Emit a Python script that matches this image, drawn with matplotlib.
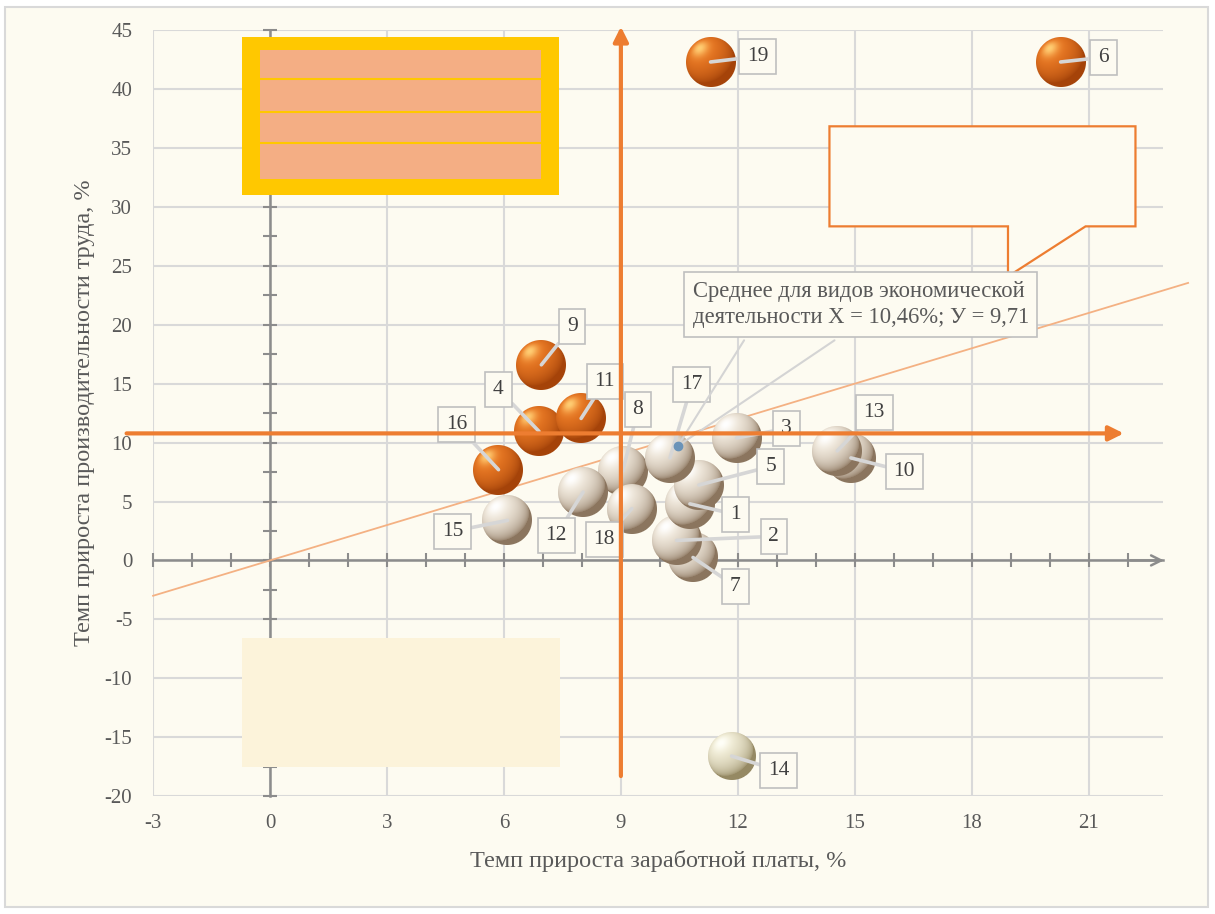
import numpy as np
import matplotlib.pyplot as plt
from matplotlib.offsetbox import OffsetImage, AnnotationBbox
from matplotlib.patches import Rectangle, Polygon

plt.rcParams['font.family'] = ['Liberation Serif', 'DejaVu Serif']
plt.rcParams['axes.unicode_minus'] = False

# --- data ---
ids = list(range(1, 20))
wage = [10.77, 10.43, 11.97, 6.90, 11.00, 20.28, 10.85, 9.05, 6.96, 14.90,
        7.98, 8.03, 14.55, 11.84, 6.09, 5.86, 10.26, 9.28, 11.30]
prod = [4.8, 1.7, 10.4, 10.95, 6.4, 42.3, 0.25, 7.6, 16.6, 8.7,
        12.05, 5.8, 9.3, -16.6, 3.4, 7.7, 8.7, 4.4, 42.3]
orange_ids = [4, 6, 9, 11, 16, 19]
mean_x, mean_y = 10.46, 9.71
mean_text = "Среднее для видов экономической\nдеятельности Х = 10,46%; У = 9,71"

# where the number boxes sit
lab_x = [11.94, 12.92, 13.25, 5.86, 12.84, 21.38, 11.94, 9.44, 7.75, 16.27,
         8.59, 7.34, 15.50, 13.04, 4.68, 4.78, 10.82, 8.57, 12.51]
lab_y = [3.9, 2.04, 11.2, 14.52, 7.98, 42.7, -2.2, 12.82, 19.86, 7.56,
         15.2, 2.12, 12.56, -17.83, 2.46, 11.54, 14.94, 1.78, 42.78]

# drawing order of the bubbles (later = on top)
draw_order = [7, 2, 1, 5, 10, 13, 8, 18, 12, 4, 11, 16, 9, 15, 17, 3, 19, 6, 14]

ORANGE = '#ED7D31'
BG = '#FDFBF1'
TXT = '#595959'


def sphere(d, body, light, dark, gamma=0.7):
    # little shaded ball picture, d pixels wide
    yy, xx = np.mgrid[0:d, 0:d] + 0.5
    R = d / 2.0
    nx = (xx - R) / R
    ny = -(yy - R) / R
    r = np.sqrt(nx ** 2 + ny ** 2)
    nz = np.sqrt(np.clip(1 - r ** 2, 0, 1))
    L = np.array([-0.45, 0.55, 0.70])
    L = L / np.linalg.norm(L)
    diff = np.clip(nx * L[0] + ny * L[1] + nz * L[2], 0, 1)
    spec = diff ** 16
    body = np.array(body) / 255.0
    light = np.array(light) / 255.0
    dark = np.array(dark) / 255.0
    t = diff[..., None] ** gamma
    col = dark + (body - dark) * t
    col = col + (light - col) * spec[..., None]
    alpha = np.clip(R - r * R + 0.5, 0, 1)
    return np.dstack([np.clip(col, 0, 1), alpha])


fig = plt.figure(figsize=(12.15, 9.14), dpi=100, facecolor='white')
fig.patches.append(Rectangle((0.0041, 0.0077), 0.990, 0.9846, transform=fig.transFigure,
                             fc=BG, ec='#D9D9D9', lw=1.5, zorder=-10))
ax = fig.add_axes([0.126, 0.129, 0.831, 0.838])
ax.set_facecolor('none')
ax.set_xlim(-3, 22.9)
ax.set_ylim(-20, 45)
ax.set_xticks(np.arange(-3, 22, 3))
ax.set_yticks(np.arange(-20, 46, 5))
ax.tick_params(length=0, labelsize=15, labelcolor=TXT)
ax.tick_params(axis='x', pad=13)
ax.tick_params(axis='y', pad=15)
ax.grid(True, color='#D9D9D9', lw=1.5)
ax.set_axisbelow(True)
for s in ax.spines.values():
    s.set_visible(False)

ax.set_xlabel('Темп прироста заработной платы, %', fontsize=17.5, color=TXT, labelpad=12)
ax.set_ylabel('Темп прироста производительности труда, %', fontsize=17.5, color=TXT, labelpad=7)

# zero axes with small ticks
ax.plot([-3, 22.9], [0, 0], color='#8C8C8C', lw=1.8, zorder=1.5, clip_on=False)
ax.annotate('', xy=(23.0, 0), xytext=(22.0, 0),
            arrowprops=dict(arrowstyle='->', color='#8C8C8C', lw=1.8, mutation_scale=18),
            zorder=1.5, annotation_clip=False)
ax.plot(np.arange(-3, 23), np.zeros(26), ls='none', marker='|', ms=10, mew=1.5,
        color='#8C8C8C', zorder=1.5, clip_on=False)
ax.plot([0, 0], [-20, 45], color='#8C8C8C', lw=1.8, zorder=1.5, clip_on=False)
ax.plot(np.zeros(27), np.arange(-20, 46, 2.5), ls='none', marker='_', ms=10, mew=1.5,
        color='#8C8C8C', zorder=1.5, clip_on=False)

# trend line
ax.plot([-3, 23.55], [-3, 23.55], color='#F4B183', lw=1.3, zorder=2, clip_on=False)

# decoration boxes
ax.add_patch(Rectangle((-0.72, 31.0), 8.14, 13.4, fc='#FFC800', ec='none', zorder=2.2))
ax.add_patch(Rectangle((-0.26, 32.34), 7.22, 10.96, fc='#F4AE84', ec='none', zorder=2.3))
for yl in [40.83, 38.03, 35.4]:
    ax.plot([-0.26, 6.96], [yl, yl], color='#FFC800', lw=1.5, zorder=2.4)
ax.add_patch(Rectangle((-0.72, -17.57), 8.16, 10.95, fc='#FCF3DA', ec='none', zorder=2.2))
ax.add_patch(Polygon([(14.35, 36.84), (22.2, 36.84), (22.2, 28.35), (20.92, 28.35),
                      (18.93, 24.1), (18.93, 28.35), (14.35, 28.35)],
                     closed=True, fc=BG, ec=ORANGE, lw=1.6, zorder=2.2, clip_on=False))

# bubbles
for k, i in enumerate(draw_order):
    j = i - 1
    if i in orange_ids:
        img = sphere(50, (236, 122, 36), (255, 205, 115), (165, 68, 10), 0.8)
    elif i == 14:
        img = sphere(48, (244, 240, 218), (255, 255, 248), (150, 138, 100), 0.6)
    else:
        img = sphere(50, (245, 238, 226), (255, 255, 255), (140, 118, 95), 0.6)
    ab = AnnotationBbox(OffsetImage(img, zoom=1, dpi_cor=False), (wage[j], prod[j]),
                        frameon=False, pad=0, zorder=3 + k * 0.01)
    ax.add_artist(ab)

# number boxes with leader lines
for j, i in enumerate(ids):
    ax.annotate(str(i), xy=(wage[j], prod[j]), xytext=(lab_x[j], lab_y[j]),
                ha='center', va='center', fontsize=15.5, color='#404040',
                bbox=dict(boxstyle='square,pad=0.36', fc=BG, ec='#BFBFBF', lw=1.2),
                arrowprops=dict(arrowstyle='-', color='#D6D6D6', lw=2.6, shrinkA=0, shrinkB=0),
                zorder=5)

# mean point and its note
ax.plot(mean_x, mean_y, 'o', ms=6, color='#6A93B8', zorder=5.5)
ax.annotate('', xy=(mean_x, mean_y), xytext=(12.16, 18.68),
            arrowprops=dict(arrowstyle='-', color='#D4D4D4', lw=1.5, shrinkA=0, shrinkB=0), zorder=5)
ax.annotate('', xy=(mean_x, mean_y), xytext=(14.48, 18.68),
            arrowprops=dict(arrowstyle='-', color='#D4D4D4', lw=1.5, shrinkA=0, shrinkB=0), zorder=5)
ax.text(10.84, 21.73, mean_text, ha='left', va='center', fontsize=16.3, color=TXT,
        linespacing=1.35,
        bbox=dict(boxstyle='square,pad=0.38', fc=BG, ec='#BFBFBF', lw=1.2), zorder=5.2)

# orange cross arrows
ax.annotate('', xy=(21.9, 10.78), xytext=(-3.68, 10.78),
            arrowprops=dict(arrowstyle='-|>', color=ORANGE, lw=3, mutation_scale=22,
                            shrinkA=0, shrinkB=0),
            zorder=6, annotation_clip=False)
ax.annotate('', xy=(9.0, 45.3), xytext=(9.0, -18.3),
            arrowprops=dict(arrowstyle='-|>', color=ORANGE, lw=3, mutation_scale=22,
                            shrinkA=0, shrinkB=0),
            zorder=6, annotation_clip=False)

fig.savefig('out.png', dpi=100, facecolor='white')
